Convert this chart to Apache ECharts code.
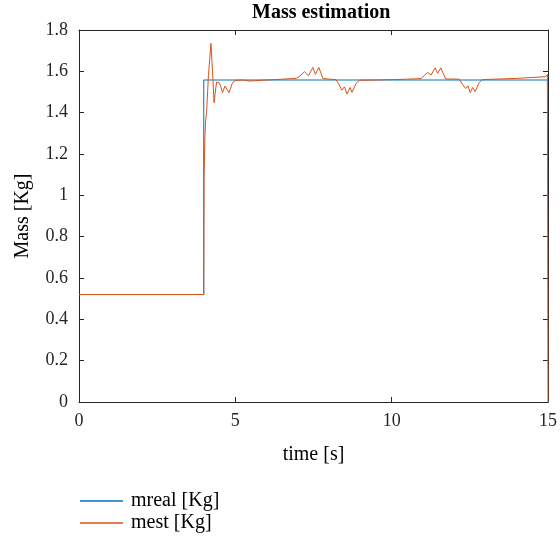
<!DOCTYPE html>
<html>
<head>
<meta charset="utf-8">
<script src="https://cdn.jsdelivr.net/npm/echarts@6/dist/echarts.min.js"></script>
<style>html,body{margin:0;padding:0;background:#fff}#c{width:560px;height:542px}</style>
</head>
<body>
<div id="c"></div>
<script>
const seriesNames = ['mreal [Kg]', 'mest [Kg]'];
const xTicks = [0, 5, 10, 15];
const yTicks = [0, 0.2, 0.4, 0.6, 0.8, 1, 1.2, 1.4, 1.6, 1.8];
const mreal = [[0,0.52],[3.99,0.52],[3.99,1.558],[15,1.558]];
const mest = [[0,0.52],[3.99,0.52],[4.0,1.1],[4.03,1.3],[4.05,1.36],[4.08,1.40],[4.14,1.58],[4.22,1.735],[4.27,1.6],[4.32,1.448],[4.36,1.5],[4.40,1.548],[4.48,1.545],[4.53,1.529],[4.59,1.497],[4.67,1.529],[4.72,1.537],[4.80,1.497],[4.91,1.546],[5.01,1.556],[5.22,1.558],[5.46,1.553],[5.87,1.557],[6.5,1.562],[6.95,1.566],[7.05,1.575],[7.21,1.598],[7.34,1.579],[7.48,1.619],[7.56,1.585],[7.67,1.619],[7.80,1.566],[8.0,1.562],[8.22,1.56],[8.3,1.54],[8.41,1.509],[8.49,1.525],[8.57,1.490],[8.67,1.522],[8.73,1.498],[8.86,1.541],[8.97,1.557],[9.5,1.558],[10.5,1.562],[10.94,1.565],[11.05,1.58],[11.15,1.595],[11.26,1.582],[11.39,1.617],[11.47,1.590],[11.57,1.617],[11.73,1.563],[12.16,1.562],[12.25,1.54],[12.37,1.517],[12.44,1.53],[12.51,1.497],[12.59,1.522],[12.67,1.502],[12.80,1.546],[12.9,1.560],[14.0,1.566],[14.92,1.574],[14.98,1.585],[15,0]];

const FONT = '"Liberation Serif", "DejaVu Serif", serif';
const AX = '#262626';
const chart = echarts.init(document.getElementById('c'), null, {renderer: 'canvas'});
const hidden = {show: false};
const line = {show: true, onZero: false, lineStyle: {color: AX, width: 1}};
const tick = {show: true, inside: true, length: 5, lineStyle: {color: AX}};
chart.setOption({
  animation: false,
  backgroundColor: '#fff',
  textStyle: {fontFamily: FONT},
  title: {
    text: 'Mass estimation', left: 252, top: 3, padding: 0,
    textStyle: {fontFamily: FONT, fontSize: 20, fontWeight: 'bold', color: '#000'}
  },
  grid: {left: 79, right: 11, top: 30, bottom: 140, containLabel: false},
  legend: {
    orient: 'vertical', left: 80, top: 491, itemGap: 2, padding: 0,
    itemWidth: 43, itemHeight: 1.6, icon: 'rect',
    textStyle: {fontFamily: FONT, fontSize: 20, color: '#000', padding: [0,0,0,3]},
    data: seriesNames
  },
  xAxis: [{
    type: 'value', min: 0, max: 15, interval: 5,
    name: 'time [s]', nameLocation: 'middle', nameGap: 43,
    nameTextStyle: {fontFamily: FONT, fontSize: 20, color: '#000'},
    axisLine: line, axisTick: tick,
    axisLabel: {fontFamily: FONT, fontSize: 18, color: AX, margin: 10, formatter: v => xTicks.includes(v) ? String(v) : ''},
    splitLine: hidden
  }, {
    type: 'value', position: 'top', min: 0, max: 15, interval: 5,
    axisLine: line, axisTick: tick, axisLabel: hidden, splitLine: hidden
  }],
  yAxis: [{
    type: 'value', min: 0, max: 1.8, interval: 0.2,
    name: 'Mass [Kg]', nameLocation: 'middle', nameGap: 46,
    nameTextStyle: {fontFamily: FONT, fontSize: 20, color: '#000'},
    axisLine: line, axisTick: tick,
    axisLabel: {fontFamily: FONT, fontSize: 18, color: AX, margin: 11,
      formatter: v => { const t = yTicks.find(y => Math.abs(y - v) < 1e-6); return t === undefined ? '' : String(t); }},
    splitLine: hidden
  }, {
    type: 'value', position: 'right', min: 0, max: 1.8, interval: 0.2,
    axisLine: line, axisTick: tick, axisLabel: hidden, splitLine: hidden
  }],
  series: [{
    name: seriesNames[0], type: 'line', data: mreal, showSymbol: false, symbol: 'none',
    lineStyle: {color: '#0072BD', width: 1}, itemStyle: {color: '#0072BD'}
  }, {
    name: seriesNames[1], type: 'line', data: mest, showSymbol: false, symbol: 'none',
    lineStyle: {color: '#D95319', width: 1}, itemStyle: {color: '#D95319'}
  }]
});
</script>
</body>
</html>
